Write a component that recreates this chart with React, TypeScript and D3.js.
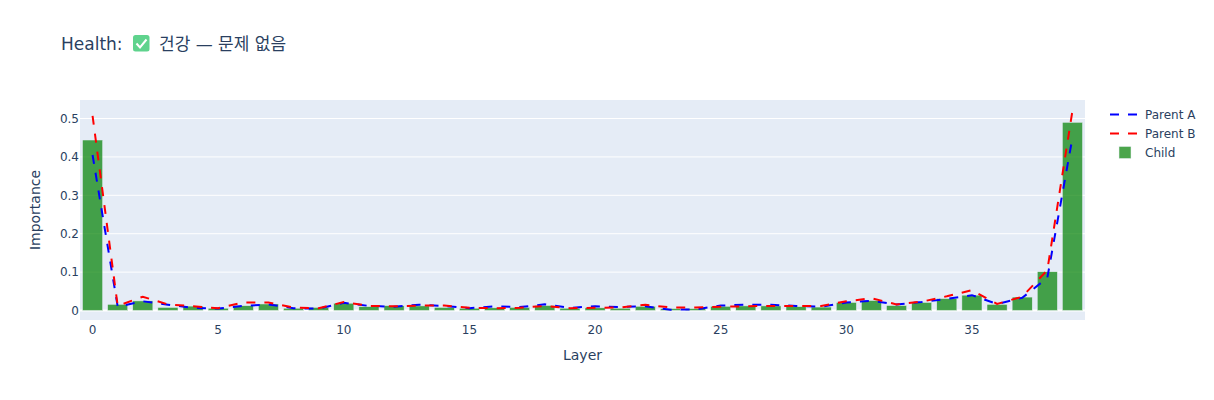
import React from "react";
import * as d3 from "d3";

const layers: number[] = d3.range(40);
const child = [0.444,0.016,0.025,0.008,0.0115,0.006,0.0125,0.017,0.006,0.008,0.019,0.01,0.0125,0.012,0.008,0.006,0.007,0.008,0.013,0.006,0.007,0.006,0.011,0.005,0.005,0.011,0.012,0.012,0.01,0.009,0.021,0.026,0.013,0.021,0.031,0.04,0.016,0.035,0.101,0.49];
const parentA = [0.405,0.01,0.024,0.015,0.007,0.005,0.012,0.016,0.006,0.005,0.02,0.012,0.01,0.015,0.012,0.006,0.011,0.009,0.016,0.007,0.011,0.009,0.011,0.002,0.003,0.013,0.015,0.015,0.012,0.01,0.021,0.025,0.016,0.022,0.03,0.04,0.017,0.033,0.085,0.45];
const parentB = [0.507,0.012,0.036,0.016,0.011,0.006,0.021,0.021,0.008,0.006,0.022,0.012,0.011,0.013,0.013,0.007,0.006,0.007,0.012,0.006,0.007,0.008,0.015,0.008,0.008,0.01,0.011,0.012,0.012,0.012,0.024,0.032,0.016,0.023,0.037,0.053,0.017,0.036,0.105,0.52];
const xTicks = [0,5,10,15,20,25,30,35];
const yTicks = [0,0.1,0.2,0.3,0.4,0.5];
const legendLines = [{ name: "Parent A", color: "#0000ff" }, { name: "Parent B", color: "#ff0000" }];

const FONT = '"DejaVu Sans", verdana, arial, sans-serif';
const TITLE_FONT = '"DejaVu Sans", "Noto Sans CJK KR", sans-serif';
const INK = "#2a3f5f";
const PLOT = { l: 80, r: 1085, t: 100, b: 320 };

export default function App() {
  const x = d3.scaleLinear().domain([-0.5, 39.5]).range([PLOT.l, PLOT.r]);
  const y = d3.scaleLinear().domain([-0.0247, 0.5482]).range([PLOT.b, PLOT.t]);
  const barW = (x(1) - x(0)) * 0.8;
  const line = d3.line<number>().x((_, i) => x(layers[i])).y((d) => y(d));
  return (
    <svg width={1214} height={400} style={{ position: "absolute", left: 0, top: 0, background: "#fff" }} fontFamily={FONT}>
      <rect x={PLOT.l} y={PLOT.t} width={PLOT.r - PLOT.l} height={PLOT.b - PLOT.t} fill="#E5ECF6" />
      {yTicks.slice(1).map((t) => (
        <line key={t} x1={PLOT.l} x2={PLOT.r} y1={y(t)} y2={y(t)} stroke="#fff" strokeWidth={1} />
      ))}
      <line x1={PLOT.l} x2={PLOT.r} y1={y(0)} y2={y(0)} stroke="#fff" strokeWidth={2} />
      {child.map((v, i) => (
        <rect key={i} x={x(layers[i]) - barW / 2} y={y(v)} width={barW} height={y(0) - y(v)} fill="green" stroke="#E5ECF6" strokeWidth={0.5} opacity={0.7} />
      ))}
      <path d={line(parentA) ?? ""} fill="none" stroke="#0000ff" strokeWidth={2} strokeDasharray="9,9" />
      <path d={line(parentB) ?? ""} fill="none" stroke="#ff0000" strokeWidth={2} strokeDasharray="9,9" />
      {xTicks.map((t) => (
        <text key={t} x={x(t)} y={334} textAnchor="middle" fontSize={12} fill={INK}>{t}</text>
      ))}
      {yTicks.map((t) => (
        <text key={t} x={79} y={y(t) + 4.2} textAnchor="end" fontSize={12} fill={INK}>{t === 0 ? "0" : t.toFixed(1)}</text>
      ))}
      <text x={(PLOT.l + PLOT.r) / 2} y={360} textAnchor="middle" fontSize={14} fill={INK}>Layer</text>
      <text transform="translate(40,210) rotate(-90)" textAnchor="middle" fontSize={14} fill={INK}>Importance</text>
      <text x={61} y={49.5} fontSize={17} fill={INK} fontFamily={TITLE_FONT}>Health:</text>
      <rect x={133} y={35} width={16.5} height={16.5} rx={2.5} fill="#5fd38d" />
      <path d="M136.5 43.5 L140 47.5 L146.5 39.5" fill="none" stroke="#fff" strokeWidth={2} />
      <text x={159} y={49.5} fontSize={17} fill={INK} fontFamily={TITLE_FONT}>건강 — 문제 없음</text>
      {legendLines.map((d, i) => (
        <g key={d.name} transform={`translate(1110,${114.5 + i * 19})`}>
          <line x1={0} x2={30} y1={0} y2={0} stroke={d.color} strokeWidth={2} strokeDasharray="9,9" />
          <text x={35} y={4} fontSize={12} fill={INK}>{d.name}</text>
        </g>
      ))}
      <g transform="translate(1110,152.5)">
        <rect x={9} y={-6} width={12} height={12} fill="green" stroke="#E5ECF6" strokeWidth={0.5} opacity={0.7} />
        <text x={35} y={4} fontSize={12} fill={INK}>Child</text>
      </g>
    </svg>
  );
}
